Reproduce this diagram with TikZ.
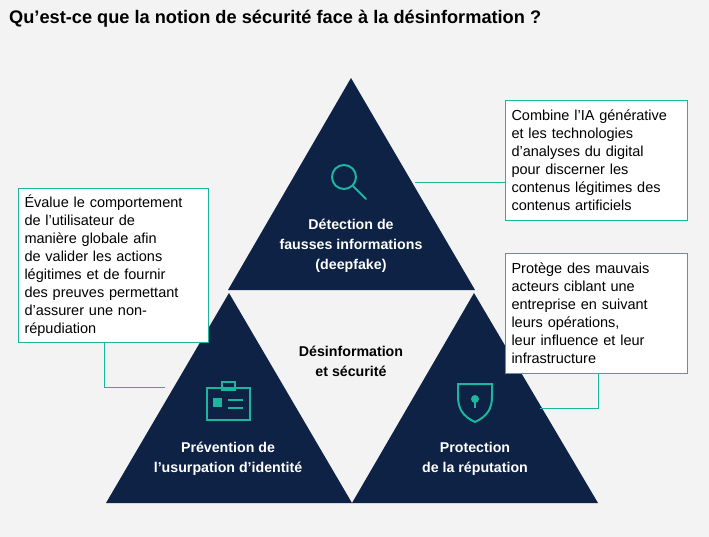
\documentclass[tikz,border=0pt]{standalone}
\usepackage{fontspec}
\setmainfont{Liberation Sans}
\usetikzlibrary{positioning}
\definecolor{navy}{HTML}{0D2244}
\definecolor{teal}{HTML}{1DB59E}
\definecolor{bg}{HTML}{F3F3F3}
\tikzset{
  tri/.style={fill=navy},
  note/.style={draw=teal, line width=1pt, fill=white, align=left, anchor=north west,
    inner sep=6pt, font=\fontsize{14.5}{18}\selectfont, text width=#1},
  link/.style={teal, line width=1pt},
  label/.style={white, font=\bfseries\fontsize{14.2}{20}\selectfont, align=center},
  icon/.style={teal, line width=2pt}
}
\begin{document}
\begin{tikzpicture}[x=1pt, y=-1pt]
    \useasboundingbox[fill=bg] (0,0) rectangle (709,537);
    % Title
    \node[anchor=west, inner sep=0pt, font=\bfseries\fontsize{18.2}{20}\selectfont] (title) at (9,19)
        {Qu’est-ce que la notion de sécurité face à la désinformation ?};

    % Triangles
    \fill[tri] (351,78) -- (475,290) -- (228,290) -- cycle;
    \fill[tri] (229,293) -- (352,503) -- (106,503) -- cycle;
    \fill[tri] (474,293) -- (598,503) -- (352,503) -- cycle;

    % Labels
    \node[label] (detect) at (351,246) {Détection de\\fausses informations\\(deepfake)};
    \node[label] (prev) at (228,459) {Prévention de\\l’usurpation d’identité};
    \node[label] (prot) at (475,459) {Protection\\de la réputation};
    \node[font=\bfseries\fontsize{14.2}{20}\selectfont, align=center] (centre) at (351,361)
        {Désinformation\\et sécurité};

    % Icons
    \draw[icon] (344,177) circle (12);
    \draw[icon, line cap=round] (353,186) -- (366,199);
    \draw[icon] (207,388) rectangle (250,420);
    \draw[icon] (222,382) rectangle (235,390);
    \fill[teal] (213,398) rectangle (222,407);
    \draw[icon] (228,400) -- (243,400) (228,408) -- (243,408);
    \draw[icon] (475,422) .. controls (462,416) and (458,408) .. (458,396) -- (458,384)
        -- (492,384) -- (492,396) .. controls (492,408) and (488,416) .. (475,422) -- cycle;
    \fill[teal] (475,399) circle (4);
    \draw[teal, line width=2.5pt] (475,399) -- (475,408);

    % Notes
    \node[note=170pt, minimum height=120pt] (n1) at (505,100) {Combine l’IA générative\\et les technologies\\d’analyses du digital\\pour discerner les\\contenus légitimes des\\contenus artificiels};
    \node[note=178pt, minimum height=152pt] (n2) at (18,188) {Évalue le comportement\\de l’utilisateur de\\manière globale afin\\de valider les actions\\légitimes et de fournir\\des preuves permettant\\d’assurer une non-\\répudiation};
    \node[note=170pt, minimum height=120pt] (n3) at (505,253) {Protège des mauvais\\acteurs ciblant une\\entreprise en suivant\\leurs opérations,\\leur influence et leur\\infrastructure};

    % Connectors
    \coordinate (c1) at (415,183);
    \coordinate (c2) at (165,387);
    \coordinate (c3) at (540,408);
    \draw[link] (c1) -- (c1 -| n1.west);
    \draw[link] (n2.south -| 104,0) |- (c2);
    \draw[link] (n3.south -| 598,0) |- (c3);
\end{tikzpicture}
\end{document}
